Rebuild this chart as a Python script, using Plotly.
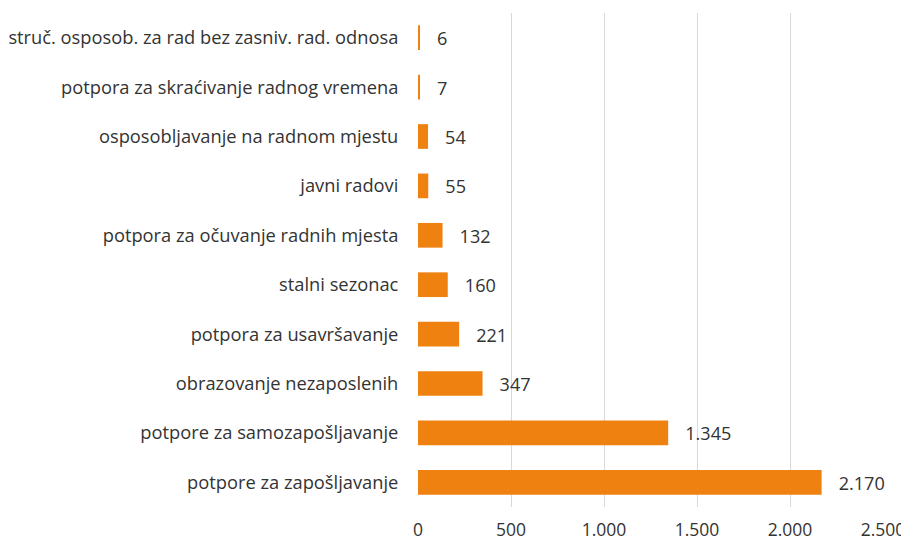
import plotly.graph_objects as go

categories = [
    "potpore za zapošljavanje",
    "potpore za samozapošljavanje",
    "obrazovanje nezaposlenih",
    "potpora za usavršavanje",
    "stalni sezonac",
    "potpora za očuvanje radnih mjesta",
    "javni radovi",
    "osposobljavanje na radnom mjestu",
    "potpora za skraćivanje radnog vremena",
    "struč. osposob. za rad bez zasniv. rad. odnosa",
]
values = [2170, 1345, 347, 221, 160, 132, 55, 54, 7, 6]
x_ticks = [0, 500, 1000, 1500, 2000, 2500]

FONT = "Open Sans, Noto Sans, sans-serif"
TXT = "#333333"
FS = 18.3

# the page body has an 8px margin, so the figure is sized 8px smaller
fig = go.Figure()
fig.add_trace(go.Bar(
    x=values, y=categories, orientation="h",
    marker=dict(color="#EF8110", line=dict(width=0)),
    width=0.5,
    texttemplate="   %{x:,}", textposition="outside", cliponaxis=False,
    textfont=dict(family=FONT, size=FS, color=TXT),
))

fig.update_layout(
    width=901, height=535,
    margin=dict(l=410, r=26, t=5, b=36, autoexpand=False),
    paper_bgcolor="white", plot_bgcolor="white",
    separators=",.",
    showlegend=False,
    font=dict(family=FONT, size=FS, color=TXT),
)
fig.update_xaxes(
    range=[0, 2500], tickvals=x_ticks, tickformat=",",
    showgrid=True, gridcolor="#D9D9D9", gridwidth=1,
    zeroline=False, showline=False, automargin=False,
    ticks="outside", ticklen=7, tickcolor="white",
    tickfont=dict(family=FONT, size=17.5, color=TXT),
)
fig.update_yaxes(
    showgrid=False, zeroline=False, showline=False, automargin=False,
    ticks="outside", ticklen=15, tickcolor="white",
    tickfont=dict(family=FONT, size=FS, color=TXT),
)

fig.write_html("out.html")
